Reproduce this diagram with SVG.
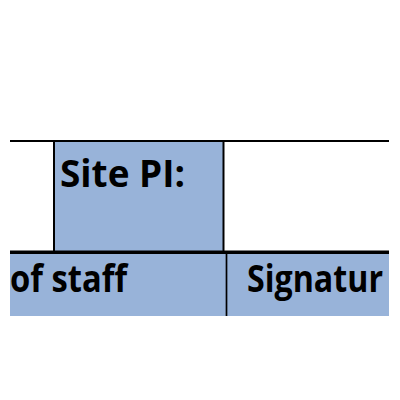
<svg xmlns="http://www.w3.org/2000/svg" width="400" height="400" viewBox="0 0 400 400">
<style>
.cell{fill:#98B3D9;stroke:none}
.ln{stroke:#000;fill:none}
.t{font-family:"Open Sans","Noto Sans","Liberation Sans",sans-serif;font-weight:bold;font-size:38px;fill:#000}
</style>
<rect width="400" height="400" fill="#fff"/>
<g id="site-pi">
<rect class="cell" x="54" y="141" width="170" height="111"/>
<text class="t" x="60" y="187" textLength="125" lengthAdjust="spacingAndGlyphs">Site PI:</text>
</g>
<g id="staff">
<rect class="cell" x="10" y="252" width="217" height="64"/>
<text class="t" x="10" y="292" textLength="117" lengthAdjust="spacingAndGlyphs">of staff</text>
</g>
<g id="signature">
<rect class="cell" x="227" y="252" width="162" height="64"/>
<text class="t" x="247" y="292" textLength="136" lengthAdjust="spacingAndGlyphs">Signatur</text>
</g>
<g id="connectors">
<line class="ln" x1="10" y1="141" x2="389" y2="141" stroke-width="2"/>
<line class="ln" x1="54" y1="141" x2="54" y2="252" stroke-width="2"/>
<line class="ln" x1="223.5" y1="141" x2="223.5" y2="252" stroke-width="2"/>
<line class="ln" x1="10" y1="252.3" x2="389" y2="252.3" stroke-width="3.5"/>
<line class="ln" x1="226.5" y1="252" x2="226.5" y2="316" stroke-width="1.7"/>
</g>
</svg>
